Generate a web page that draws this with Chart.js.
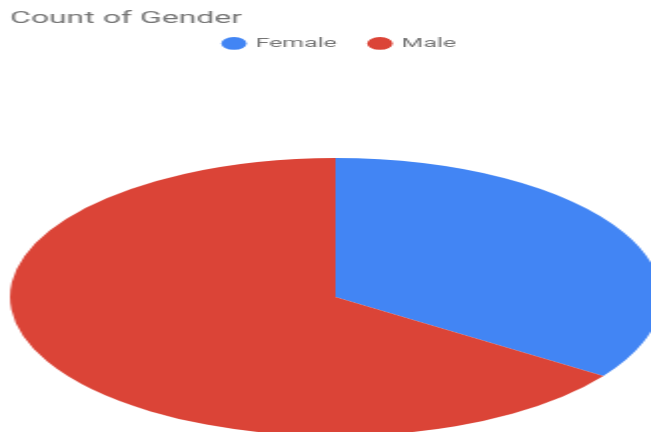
<!DOCTYPE html>
<html>
<head>
<meta charset="utf-8">
<script src="https://cdn.jsdelivr.net/npm/chart.js@4/dist/chart.umd.min.js"></script>
<style>
  html, body { margin: 0; padding: 0; background: #fff; overflow: hidden; }
  /* canvas is drawn at half width and stretched, like the reference */
  #pie { display: block; }
</style>
</head>
<body>
<canvas id="pie" width="326" height="432" style="width:651px;height:432px"></canvas>
<script>
const categories = ['Female', 'Male'];
const counts = [9, 17];
const sliceColors = ['#4285F4', '#DB4437'];

// where the (stretched) pie sits, in canvas units
const pieBox = { cx: 168, cy: 297, rx: 163, ry: 139 };

// squash the round pie into the ellipse of the reference
const ellipsePlugin = {
  id: 'ellipse',
  beforeDatasetsDraw(chart) {
    const arc = chart.getDatasetMeta(0).data[0];
    if (!arc) return;
    const r = arc.outerRadius;
    const ctx = chart.ctx;
    ctx.save();
    ctx.translate(pieBox.cx, pieBox.cy);
    ctx.scale(pieBox.rx / r, pieBox.ry / r);
    ctx.translate(-arc.x, -arc.y);
  },
  afterDatasetsDraw(chart) {
    chart.ctx.restore();
  }
};

new Chart(document.getElementById('pie'), {
  type: 'pie',
  data: {
    labels: categories,
    datasets: [{
      data: counts,
      backgroundColor: sliceColors,
      borderWidth: 0,
      clip: false
    }]
  },
  options: {
    responsive: false,
    devicePixelRatio: 1,
    animation: false,
    layout: { padding: { left: 5, right: -10, top: 9 } },
    plugins: {
      title: {
        display: true,
        text: 'Count of Gender',
        align: 'start',
        color: '#757575',
        font: { family: 'Roboto', size: 16, weight: 'normal' },
        padding: { top: 0, bottom: -8 }
      },
      legend: {
        position: 'top',
        labels: {
          usePointStyle: true,
          pointStyle: 'circle',
          boxWidth: 9,
          boxHeight: 9,
          color: '#757575',
          font: { family: 'Roboto', size: 12.5 },
          padding: 17
        }
      },
      tooltip: { enabled: false }
    }
  },
  plugins: [ellipsePlugin]
});
</script>
</body>
</html>
